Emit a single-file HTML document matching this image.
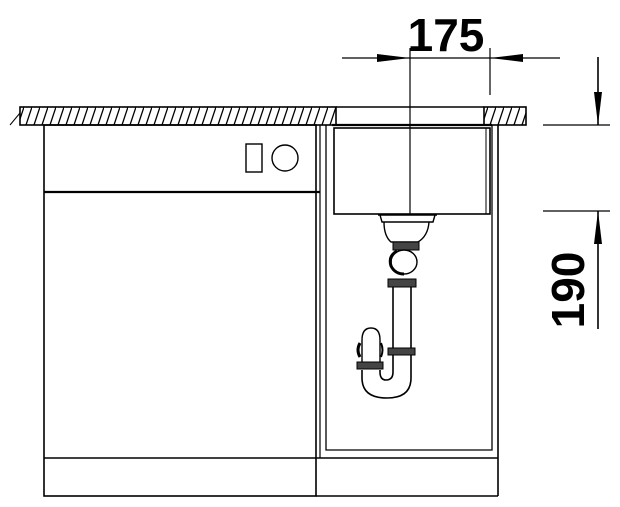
<!DOCTYPE html>
<html><head><style>html,body{margin:0;padding:0;background:#fff}svg{display:block}</style></head><body>
<svg width="620" height="507" viewBox="0 0 620 507" xmlns="http://www.w3.org/2000/svg">
<defs>
<pattern id="h" width="8" height="18" patternUnits="userSpaceOnUse" patternTransform="translate(0,107)">
<line x1="2" y1="18" x2="8" y2="0" stroke="#000" stroke-width="1.3"/>
</pattern>
</defs>
<g fill="none" stroke="#000" stroke-width="1.6">
<rect x="20" y="107" width="316" height="18" fill="url(#h)"/>
<rect x="484" y="107" width="42" height="18" fill="url(#h)"/>
<line x1="336" y1="107" x2="484" y2="107"/>
<line x1="10" y1="125" x2="20" y2="113" stroke-width="1"/>
<rect x="44" y="125" width="272" height="371"/>
<line x1="44" y1="192" x2="320" y2="192" stroke-width="2.2"/>
<line x1="44" y1="458" x2="498" y2="458"/>
<rect x="246" y="144" width="16" height="28" stroke-width="1.4"/>
<circle cx="285" cy="158" r="13" stroke-width="1.4"/>
<line x1="320" y1="125" x2="320" y2="458" stroke-width="1.2"/>
<line x1="316" y1="496" x2="498" y2="496"/>
<line x1="498" y1="125" x2="498" y2="496"/>
<polyline points="326,125 326,450 492,450 492,125" stroke-width="1.3"/>
<line x1="332" y1="125" x2="492" y2="125" stroke-width="2.2"/>
<rect x="334" y="128" width="156" height="86"/>
<line x1="486" y1="128" x2="486" y2="214" stroke-width="1"/>
<!-- drain -->
<path d="M378,215 L437,215 M380,215 L382,222 L433,222 L435,215" stroke-width="1.4"/>
<path d="M384,222 Q384,236 391,242 L418,242 Q428,236 429,222" stroke-width="1.4"/>
<rect x="393" y="242" width="26" height="8" fill="#444" stroke-width="1"/>
<ellipse cx="404" cy="262" rx="13" ry="12" stroke-width="1.4"/>
<path d="M397,251 Q388,256 391,266 Q395,274 404,274" stroke-width="3"/>
<rect x="388" y="279" width="28" height="8" fill="#444" stroke-width="1"/>
<line x1="393" y1="287" x2="393" y2="348"/>
<line x1="411" y1="287" x2="411" y2="348"/>
<rect x="388" y="348" width="27" height="7" fill="#444" stroke-width="1"/>
<path d="M393,355 L393,372 Q393,380 386,380 Q380,380 380,372 L380,370"/>
<path d="M411,355 L411,378 Q411,398 387,398 Q362,398 362,378 L362,370"/>
<rect x="357" y="362" width="26" height="7" fill="#444" stroke-width="1"/>
<path d="M362,362 L362,340 Q362,328 371,328 Q380,328 380,340 L380,362" stroke-width="1.4"/>
<path d="M360,343 Q356,350 360,357" stroke-width="3"/>
<path d="M381,343 Q384,350 381,357" stroke-width="2"/>
</g>
<g stroke="#000" stroke-width="1.2" fill="none">
<line x1="410" y1="48" x2="410" y2="214"/>
<line x1="490" y1="48" x2="490" y2="95"/>
<line x1="342" y1="58" x2="560" y2="58"/>
<line x1="543" y1="125" x2="610" y2="125"/>
<line x1="543" y1="211" x2="610" y2="211"/>
<line x1="598" y1="57" x2="598" y2="125" stroke-width="1.6"/>
<line x1="598" y1="211" x2="598" y2="329" stroke-width="1.6"/>
</g>
<g fill="#000">
<polygon points="410,58 377,54 377,62"/>
<polygon points="490,58 523,54 523,62"/>
<polygon points="598,125 594,92 602,92"/>
<polygon points="598,211 594,244 602,244"/>
</g>
<text x="446" y="51" font-family="Liberation Sans, sans-serif" font-weight="bold" font-size="46" text-anchor="middle" fill="#000">175</text>
<text transform="translate(584,290) rotate(-90)" font-family="Liberation Sans, sans-serif" font-weight="bold" font-size="46" text-anchor="middle" fill="#000">190</text>
</svg>
</body></html>
